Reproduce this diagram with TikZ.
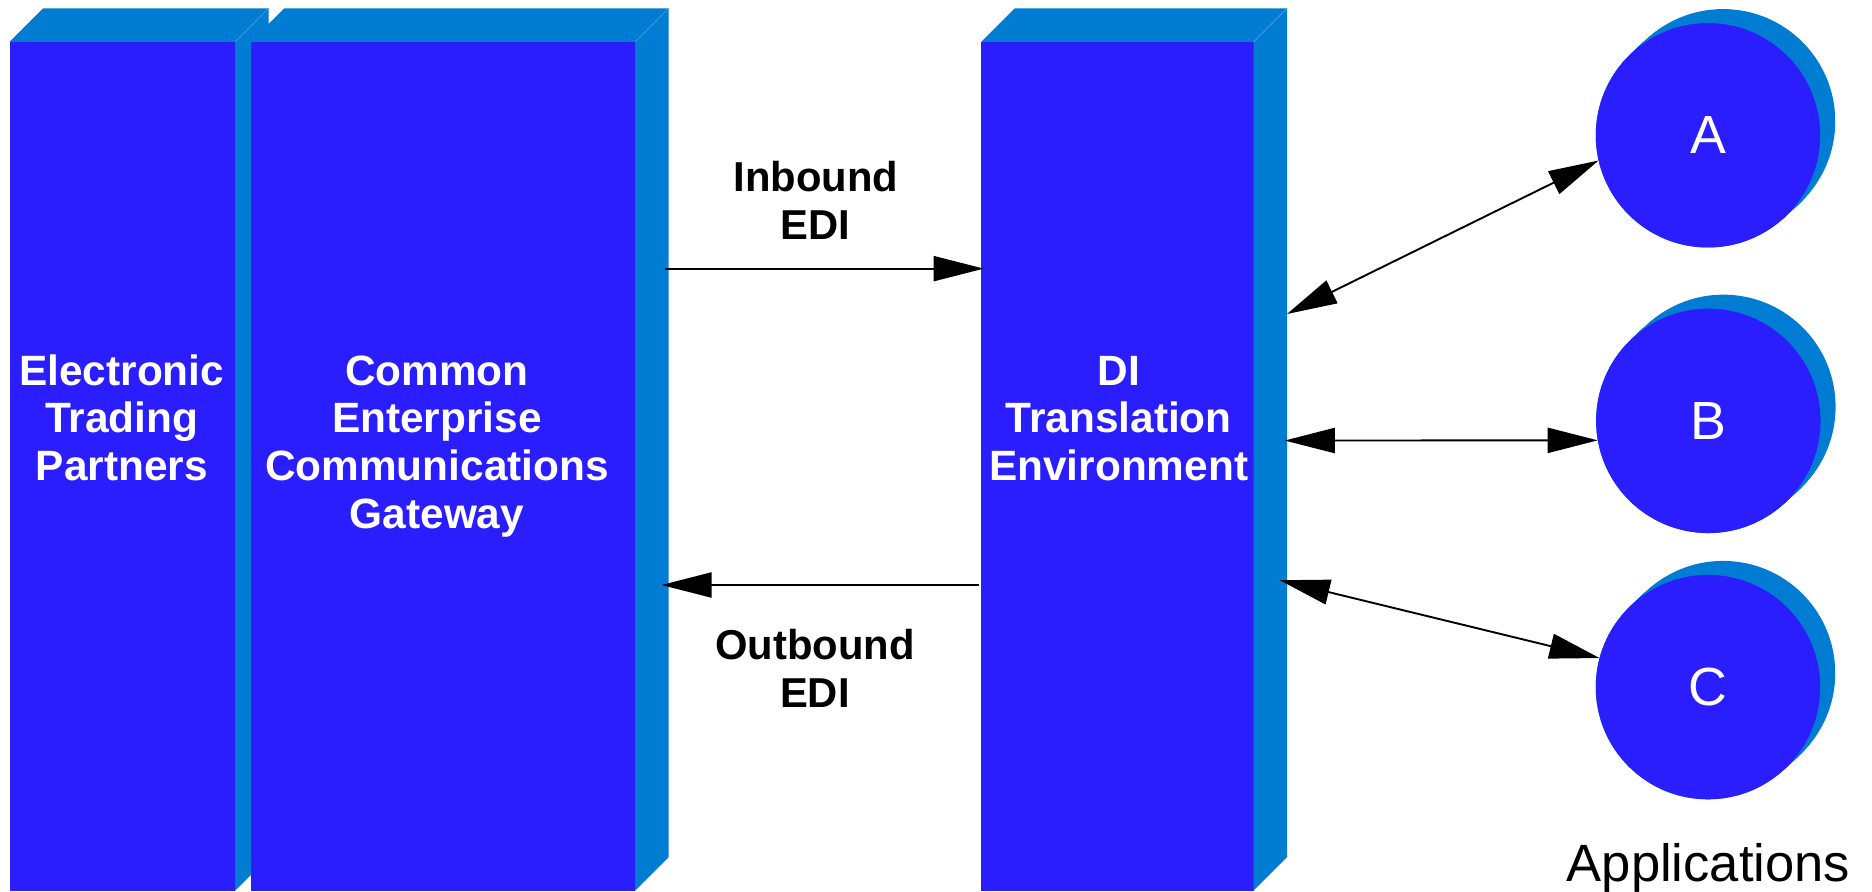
\documentclass[tikz,border=0pt]{standalone}
\usepackage{fontspec}
\setmainfont{Liberation Sans}
\usetikzlibrary{arrows.meta,calc}

\definecolor{facefront}{RGB}{42,30,255}
\definecolor{faceside}{RGB}{0,124,210}
\definecolor{faceedge}{RGB}{70,160,235}

% centred stack of lines whose baseline is the first line
\newcommand\linesat[1]{\begin{tabular}[t]{@{}c@{}}#1\end{tabular}}

% top and side faces of a slab whose front face is node #1
\newcommand\slabfaces[1]{%
  \fill[faceside] (#1.north east) -- ++(28,-28) -- ([shift={(28,-28)}]#1.south east) -- (#1.south east) -- cycle;
  \fill[faceside] (#1.north west) -- ++(28,-28) -- ([shift={(28,-28)}]#1.north east) -- (#1.north east) -- cycle;
  \draw[slabedge] (#1.north east) -- ++(28,-28);
}

\begin{document}
\begin{tikzpicture}[x=1pt,y=-1pt,
  front/.style={rectangle, fill=facefront, draw=none, inner sep=0pt, outer sep=0pt, minimum height=711pt},
  slabedge/.style={draw=faceedge, line width=0.5pt},
  boxlabel/.style={text=white, font=\fontsize{35.5}{40}\selectfont\bfseries, anchor=base, inner sep=0pt},
  edilabel/.style={text=black, font=\fontsize{35}{40}\selectfont\bfseries, anchor=base, inner sep=0pt},
  app/.style={circle, fill=facefront, minimum size=188pt, inner sep=0pt, outer sep=0pt,
              text=white, font=\fontsize{45}{54}\selectfont},
  flow/.style={line width=1.6pt, -{Triangle[length=42pt,width=21pt]}},
  twoway/.style={line width=1.6pt, {Triangle[length=42pt,width=21pt]}-{Triangle[length=42pt,width=21pt]}},
]
\useasboundingbox (0,0) rectangle (1568,747);

% slabs, back to front
\node[front, minimum width=189pt] (etp) at (102.5,390.5) {};
\slabfaces{etp}
\node[front, minimum width=322pt] (ceg) at (371,390.5) {};
\slabfaces{ceg}
\node[front, minimum width=228pt] (dite) at (936,390.5) {};
\slabfaces{dite}

\node[boxlabel] (etp-text) at (102,322.5) {\linesat{Electronic\\Trading\\Partners}};
\node[boxlabel] (ceg-text) at (366,322.5) {\linesat{Common\\Enterprise\\Communications\\Gateway}};
\node[boxlabel] (dite-text) at (937,322.5) {\linesat{DI\\Translation\\Environment}};

% application discs
\coordinate (cA) at (1430.6,113.3);
\coordinate (cB) at (1430.9,352.5);
\coordinate (cC) at (1430.6,575.5);
\foreach \c in {cA,cB,cC}{
  \foreach \t in {0,0.1,...,1.01}{
    \fill[faceside] ($(\c)+\t*(12.6,-11.7)$) circle[radius=94pt];
  }
}
\node[app] (appA) at (cA) {A};
\node[app] (appB) at (cB) {B};
\node[app] (appC) at (cC) {C};
\node[font=\fontsize{44}{52}\selectfont, anchor=base, inner sep=0pt] (applabel) at (1431,738) {Applications};

% EDI flows between gateway and translation environment
\path (ceg.north east) ++(25,190) coordinate (in-start);
\path (dite.north west) ++(2,190) coordinate (in-end);
\path (dite.north west) ++(-2,455) coordinate (out-start);
\path (ceg.north east) ++(22,455) coordinate (out-end);
\draw[flow] (in-start) -- (in-end);
\draw[flow] (out-start) -- (out-end);
\node[edilabel] (in-label) at (683.3,160.6) {\linesat{Inbound\\EDI}};
\node[edilabel] (out-label) at (682.6,552.8) {\linesat{Outbound\\EDI}};

% links to the applications
\path (dite.north east) ++(28,228) coordinate (di-a);
\path (dite.north east) ++(26,334) coordinate (di-b);
\path (dite.north east) ++(22,451) coordinate (di-c);
\draw[twoway] (di-a) -- (appA.193);
\draw[twoway] (di-b) -- (appB.190);
\draw[twoway] (di-c) -- (appC.165);
\end{tikzpicture}
\end{document}
